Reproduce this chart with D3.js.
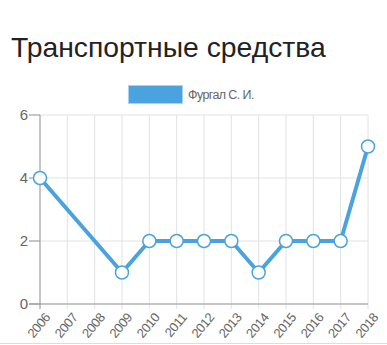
<!DOCTYPE html>
<html>
<head>
<meta charset="utf-8">
<script src="https://cdn.jsdelivr.net/npm/d3@7"></script>
<style>
  body { margin: 0; background: #fff; }
  svg { display: block; font-family: "Liberation Sans", Arial, sans-serif; }
</style>
</head>
<body>
<svg id="chart" width="387" height="345"></svg>
<script>
// data
var years = ["2006", "2007", "2008", "2009", "2010", "2011", "2012", "2013", "2014", "2015", "2016", "2017", "2018"];
var values = [4, null, null, 1, 2, 2, 2, 2, 1, 2, 2, 2, 5];
var yTicks = [0, 2, 4, 6];
var seriesName = "Фургал С. И.";
var title = "Транспортные средства";

var blue = "#4aa3df";

var svg = d3.select("#chart"),
    margin = {top: 115, right: 19, bottom: 41, left: 40},
    width = +svg.attr("width") - margin.left - margin.right,
    height = +svg.attr("height") - margin.top - margin.bottom;

svg.append("text")
    .attr("x", 11)
    .attr("y", 57)
    .attr("font-size", 28.3)
    .attr("fill", "#222")
    .text(title);

// legend
svg.append("rect")
    .attr("x", 128.5).attr("y", 85.5)
    .attr("width", 54).attr("height", 18)
    .attr("fill", blue)
    .attr("stroke", "#a8d3f0");
svg.append("text")
    .attr("x", 188).attr("y", 99)
    .attr("font-size", 12.5)
    .attr("letter-spacing", -0.6)
    .attr("fill", "#666")
    .text(seriesName);

var x = d3.scalePoint().domain(years).range([0, width]);
var y = d3.scaleLinear().domain([0, 6]).range([height, 0]);

var g = svg.append("g")
    .attr("transform", "translate(" + margin.left + "," + margin.top + ")");

// grid
g.selectAll(".vgrid").data(years).enter().append("line")
    .attr("x1", function(d) { return x(d); })
    .attr("x2", function(d) { return x(d); })
    .attr("y1", 0).attr("y2", height + 5)
    .attr("stroke", "#e2e2e2");
g.selectAll(".hgrid").data(yTicks).enter().append("line")
    .attr("x1", -11).attr("x2", width)
    .attr("y1", function(d) { return y(d); })
    .attr("y2", function(d) { return y(d); })
    .attr("stroke", "#e2e2e2");

// axis lines
g.append("line").attr("x1", 0).attr("x2", 0).attr("y1", 0).attr("y2", height + 5)
    .attr("stroke", "#999");
g.append("line").attr("x1", -11).attr("x2", width).attr("y1", height).attr("y2", height)
    .attr("stroke", "#999");
g.selectAll(".ytick").data(yTicks).enter().append("line")
    .attr("x1", -11).attr("x2", 0)
    .attr("y1", function(d) { return y(d); })
    .attr("y2", function(d) { return y(d); })
    .attr("stroke", "#999");

g.selectAll(".ylab").data(yTicks).enter().append("text")
    .attr("x", -12)
    .attr("y", function(d) { return y(d); })
    .attr("dy", "0.36em")
    .attr("text-anchor", "end")
    .attr("font-size", 15)
    .attr("fill", "#666")
    .text(function(d) { return d; });

g.selectAll(".xlab").data(years).enter().append("text")
    .attr("transform", function(d) { return "translate(" + (x(d) + 4) + "," + (height + 8) + ") rotate(-50)"; })
    .attr("text-anchor", "end")
    .attr("dy", "0.7em")
    .attr("font-size", 13)
    .attr("letter-spacing", -0.4)
    .attr("fill", "#666")
    .text(function(d) { return d; });

// line (gaps skipped, connecting defined points)
var pts = years.map(function(d, i) { return {year: d, v: values[i]}; })
    .filter(function(d) { return d.v != null; });

g.append("path")
    .datum(pts)
    .attr("fill", "none")
    .attr("stroke", blue)
    .attr("stroke-width", 4)
    .attr("stroke-linejoin", "round")
    .attr("d", d3.line()
        .x(function(d) { return x(d.year); })
        .y(function(d) { return y(d.v); }));

g.selectAll(".pt").data(pts).enter().append("circle")
    .attr("cx", function(d) { return x(d.year); })
    .attr("cy", function(d) { return y(d.v); })
    .attr("r", 6.5)
    .attr("fill", "#fff")
    .attr("stroke", blue)
    .attr("stroke-width", 1.5);

// bottom border
svg.append("line").attr("x1", 0).attr("x2", 387).attr("y1", 343.5).attr("y2", 343.5)
    .attr("stroke", "#ddd");
</script>
</body>
</html>
